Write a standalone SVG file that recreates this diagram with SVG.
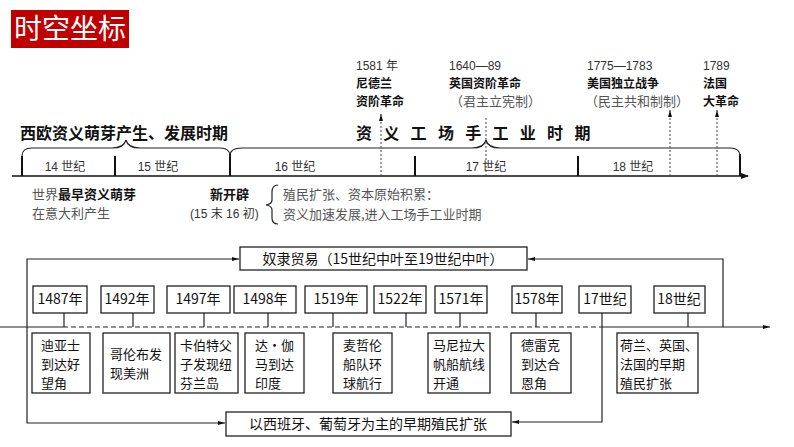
<svg xmlns="http://www.w3.org/2000/svg" width="794" height="447" viewBox="0 0 794 447">
<style>
.s{font-family:"Noto Sans CJK SC",sans-serif;font-size:14px;fill:#111}
.e{font-family:"Noto Sans CJK SC",sans-serif;font-size:13px;fill:#111}
.sm{font-family:"Liberation Sans","Noto Sans CJK SC",sans-serif;font-size:12px;fill:#333}
.b{font-family:"Noto Sans CJK SC",sans-serif;font-weight:bold;fill:#111}
.g{font-family:"Noto Sans CJK SC",sans-serif;font-size:13px;fill:#555}
.bx{fill:#fff;stroke:#222;stroke-width:1.3}
.ln{fill:none;stroke:#222;stroke-width:1.2}
.tk{stroke:#111;stroke-width:2}
.dt{stroke:#444;stroke-width:1;stroke-dasharray:2 2}
</style>
<defs>
<marker id="a" markerWidth="8" markerHeight="8" refX="7" refY="4" orient="auto" markerUnits="userSpaceOnUse"><path d="M0,1 L8,4 L0,7z" fill="#111"/></marker>
<marker id="s" markerWidth="8" markerHeight="6" refX="7" refY="3" orient="auto" markerUnits="userSpaceOnUse"><path d="M0,1 L7,3 L0,5z" fill="#111"/></marker>
</defs>
<rect width="794" height="447" fill="#fff"/>
<g id="title"><rect x="11" y="10" width="118" height="38" fill="#c00000"/><text x="70" y="39" text-anchor="middle" font-family="Noto Sans CJK SC,sans-serif" font-size="28" fill="#fff">时空坐标</text></g>

<g id="timeline">
<line x1="12" y1="176" x2="748" y2="176" stroke="#111" stroke-width="1.5" marker-end="url(#a)"/>
<line class="tk" x1="22" y1="156" x2="22" y2="176"/><line class="tk" x1="115" y1="156" x2="115" y2="176"/><line class="tk" x1="230" y1="154" x2="230" y2="176"/><line class="tk" x1="415" y1="156" x2="415" y2="176"/><line class="tk" x1="578" y1="156" x2="578" y2="176"/><line class="tk" x1="740" y1="154" x2="740" y2="176"/>
<g class="sm" text-anchor="middle"><text x="65" y="171">14 世纪</text><text x="158" y="171">15 世纪</text><text x="295" y="171">16 世纪</text><text x="486" y="171">17 世纪</text><text x="633" y="171">18 世纪</text></g>
<path class="ln" d="M22,156 Q22,148 32,148 L112,148 Q124,148 126,140 Q128,148 140,148 L220,148 Q230,148 230,156"/>
<path class="ln" d="M230,156 Q230,148 242,148 L472,148 Q484,148 486,140 Q488,148 500,148 L730,148 Q740,148 740,156"/>
<text class="b" x="20" y="139" font-size="16">西欧资义萌芽产生、发展时期</text>
<text class="b" x="356" y="139" font-size="16" letter-spacing="11.3">资义工场手工业时期</text>
<line class="dt" x1="381" y1="176" x2="381" y2="114" marker-end="url(#s)"/>
<line class="dt" x1="486" y1="176" x2="486" y2="118"/>
<line class="dt" x1="670" y1="176" x2="670" y2="110" marker-end="url(#s)"/>
<line class="dt" x1="717" y1="176" x2="717" y2="110" marker-end="url(#s)"/>
<text class="sm" x="356" y="70">1581 年</text><text class="b" font-size="12" x="356" y="88">尼德兰</text><text class="b" font-size="12" x="356" y="106">资阶革命</text>
<text class="sm" x="449" y="70">1640—89</text><text class="b" font-size="12" x="449" y="88">英国资阶革命</text><text class="g" font-size="12" x="450" y="106">（君主立宪制）</text>
<text class="sm" x="587" y="70">1775—1783</text><text class="b" font-size="12" x="587" y="88">美国独立战争</text><text class="g" font-size="12" x="585" y="106">（民主共和制制）</text>
<text class="sm" x="703" y="70">1789</text><text class="b" font-size="12" x="703" y="88">法国</text><text class="b" font-size="12" x="703" y="106">大革命</text>
<text class="g" x="32" y="199">世界<tspan font-weight="bold" fill="#111">最早资义萌芽</tspan></text>
<text class="g" x="32" y="218">在意大利产生</text>
<text class="b" font-size="13" x="210" y="199">新开辟</text>
<text class="sm" x="190" y="218">(15 末 16 初)</text>
<path class="ln" d="M278,185 Q272,185 272,192 L272,200 Q272,204 266,205 Q272,206 272,210 L272,218 Q272,224 278,224"/>
<text class="g" x="283" y="199">殖民扩张、资本原始积累：</text>
<text class="g" x="283" y="219">资义加速发展,进入工场手工业时期</text>
</g>

<g id="connectors">
<line x1="0" y1="327" x2="63" y2="327" stroke="#222" stroke-width="1.2"/>
<line x1="63" y1="327" x2="602" y2="327" stroke="#222" stroke-width="1.2" stroke-dasharray="5 3"/>
<line x1="602" y1="327" x2="770" y2="327" stroke="#222" stroke-width="1.2" marker-end="url(#s)"/>
<path class="ln" d="M27,327 L27,259 L239,259" marker-end="url(#s)"/>
<path class="ln" d="M27,327 L27,423 L225,423" marker-end="url(#s)"/>
<path class="ln" d="M723,327 L723,259 L528,259" marker-end="url(#s)"/>
<path class="ln" d="M602,313 L602,422 L512,422" marker-end="url(#s)"/>
<g class="ln"><line x1="64" y1="313" x2="64" y2="327"/><line x1="133" y1="313" x2="133" y2="327"/><line x1="204" y1="313" x2="204" y2="327"/><line x1="268" y1="313" x2="268" y2="327"/><line x1="333" y1="313" x2="333" y2="327"/><line x1="406" y1="313" x2="406" y2="327"/><line x1="460" y1="313" x2="460" y2="327"/><line x1="536" y1="313" x2="536" y2="327"/><line x1="688" y1="313" x2="688" y2="327"/></g>
</g>

<g id="slave"><rect class="bx" x="240" y="247" width="287" height="23"/><text class="s" x="383" y="264" text-anchor="middle">奴隶贸易（15世纪中叶至19世纪中叶）</text></g>
<g id="early"><rect class="bx" x="226" y="412" width="285" height="24"/><text class="s" x="368" y="429" text-anchor="middle">以西班牙、葡萄牙为主的早期殖民扩张</text></g>

<g id="y1487"><rect class="bx" x="33" y="286" width="54" height="27"/><text class="s" x="60" y="304" text-anchor="middle">1487年</text></g>
<g id="y1492"><rect class="bx" x="101" y="286" width="53" height="27"/><text class="s" x="127" y="304" text-anchor="middle">1492年</text></g>
<g id="y1497"><rect class="bx" x="167" y="286" width="63" height="27"/><text class="s" x="198" y="304" text-anchor="middle">1497年</text></g>
<g id="y1498"><rect class="bx" x="234" y="286" width="62" height="27"/><text class="s" x="265" y="304" text-anchor="middle">1498年</text></g>
<g id="y1519"><rect class="bx" x="305" y="286" width="62" height="27"/><text class="s" x="336" y="304" text-anchor="middle">1519年</text></g>
<g id="y1522"><rect class="bx" x="374" y="286" width="52" height="27"/><text class="s" x="400" y="304" text-anchor="middle">1522年</text></g>
<g id="y1571"><rect class="bx" x="435" y="286" width="52" height="27"/><text class="s" x="461" y="304" text-anchor="middle">1571年</text></g>
<g id="y1578"><rect class="bx" x="512" y="286" width="50" height="27"/><text class="s" x="537" y="304" text-anchor="middle">1578年</text></g>
<g id="c17"><rect class="bx" x="579" y="286" width="52" height="27"/><text class="s" x="605" y="304" text-anchor="middle">17世纪</text></g>
<g id="c18"><rect class="bx" x="654" y="286" width="51" height="27"/><text class="s" x="679" y="304" text-anchor="middle">18世纪</text></g>

<g id="e1"><rect class="bx" x="32" y="333" width="58" height="60"/><text class="e" x="41" y="350">迪亚士</text><text class="e" x="41" y="369">到达好</text><text class="e" x="41" y="388">望角</text></g>
<g id="e2"><rect class="bx" x="103" y="333" width="67" height="60"/><text class="e" x="110" y="359">哥伦布发</text><text class="e" x="110" y="378">现美洲</text></g>
<g id="e3"><rect class="bx" x="175" y="333" width="63" height="60"/><text class="e" x="180" y="350">卡伯特父</text><text class="e" x="180" y="369">子发现纽</text><text class="e" x="180" y="388">芬兰岛</text></g>
<g id="e4"><rect class="bx" x="245" y="333" width="59" height="60"/><text class="e" x="255" y="350">达·伽</text><text class="e" x="255" y="369">马到达</text><text class="e" x="255" y="388">印度</text></g>
<g id="e5"><rect class="bx" x="333" y="333" width="59" height="60"/><text class="e" x="343" y="350">麦哲伦</text><text class="e" x="343" y="369">船队环</text><text class="e" x="343" y="388">球航行</text></g>
<g id="e6"><rect class="bx" x="428" y="333" width="62" height="60"/><text class="e" x="433" y="350">马尼拉大</text><text class="e" x="433" y="369">帆船航线</text><text class="e" x="433" y="388">开通</text></g>
<g id="e7"><rect class="bx" x="511" y="333" width="60" height="60"/><text class="e" x="521" y="350">德雷克</text><text class="e" x="521" y="369">到达合</text><text class="e" x="521" y="388">恩角</text></g>
<g id="e8"><rect class="bx" x="617" y="333" width="81" height="60"/><text class="e" x="620" y="350">荷兰、英国、</text><text class="e" x="620" y="369">法国的早期</text><text class="e" x="620" y="388">殖民扩张</text></g>
</svg>
